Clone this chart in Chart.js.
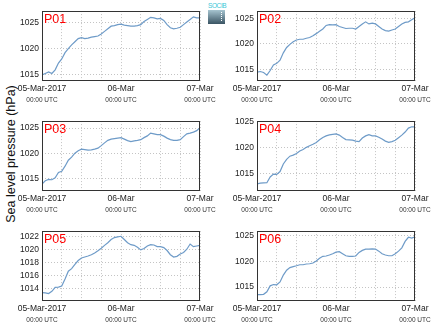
<!DOCTYPE html>
<html>
<head>
<meta charset="utf-8">
<script src="https://cdn.jsdelivr.net/npm/chart.js@4.4.1/dist/chart.umd.min.js"></script>
<style>
  body { margin:0; background:#fff; width:434px; height:327px; position:relative; overflow:hidden;
         font-family:"Liberation Sans", Arial, sans-serif; }
  canvas { position:absolute; }
  #ytitle { position:absolute; left:10.5px; top:154px; transform:translate(-50%,-50%) rotate(-90deg);
            white-space:nowrap; font-size:12.5px; color:#111; }
  #logo-txt { position:absolute; left:208px; top:2px; font-size:6.5px; letter-spacing:-0.4px; color:#3bc6d6; }
  #logo-box { position:absolute; left:208px; top:10px; width:17px; height:14px;
              background:linear-gradient(#a6c4d0, #3a5463); }
  #logo-box div { position:absolute; left:13px; top:2px; height:9px; border-left:1px dotted #fff; }
</style>
</head>
<body>
<div id="ytitle">Sea level pressure (hPa)</div>
<div id="logo-txt">SOCIB</div>
<div id="logo-box"><div></div></div>
<script>
// hours since 05-Mar-2017 00:00 UTC
const HOURS = [0,1,2,3,4,5,6,7,8,9,10,11,12,13,14,15,16,17,18,19,20,21,22,23,24,
               25,26,27,28,29,30,31,32,33,34,35,36,37,38,39,40,41,42,43,44,45,46,47,48];
const TICK_HOURS = [0, 24, 48];
const TICK_DATES = ['05-Mar-2017', '06-Mar', '07-Mar'];
const TICK_TIME = '00:00 UTC';

const STATIONS = ['P01', 'P02', 'P03', 'P04', 'P05', 'P06'];

// sea level pressure, hPa, hourly
const P01 = [1014.9,1015.2,1015.5,1015.2,1015.9,1017.2,1018.0,1019.2,1020.0,1020.7,1021.3,1021.9,1022.1,
             1021.9,1022.0,1022.2,1022.3,1022.4,1022.8,1023.3,1023.8,1024.3,1024.4,1024.6,1024.7,
             1024.5,1024.4,1024.3,1024.3,1024.4,1024.6,1025.2,1025.6,1026.0,1025.9,1025.7,1025.8,
             1025.4,1024.6,1024.0,1023.8,1023.9,1024.1,1024.6,1025.1,1025.6,1026.1,1025.9,1025.9];
const P02 = [1014.5,1014.6,1014.4,1013.9,1014.8,1015.9,1016.2,1016.8,1018.25,1019.3,1019.9,1020.4,1020.75,
             1020.9,1020.9,1021.1,1021.25,1021.6,1022.0,1022.45,1022.9,1023.6,1023.75,1023.7,1023.75,
             1023.4,1023.2,1023.0,1023.05,1023.05,1022.9,1023.4,1023.9,1024.3,1023.9,1024.05,1023.9,
             1023.4,1022.9,1022.6,1022.5,1022.7,1022.9,1023.4,1023.9,1024.2,1024.3,1024.7,1025.1];
const P03 = [1013.85,1014.5,1014.75,1014.7,1015.1,1016.15,1016.4,1017.4,1018.6,1019.2,1020.0,1020.5,1020.8,
             1020.7,1020.6,1020.65,1020.8,1021.0,1021.5,1022.05,1022.55,1022.8,1022.9,1023.0,1023.1,
             1022.8,1022.5,1022.3,1022.45,1022.55,1022.7,1023.1,1023.45,1024.0,1023.85,1023.7,1023.7,
             1023.4,1023.0,1022.7,1022.55,1022.55,1022.7,1023.3,1023.85,1024.0,1024.2,1024.5,1025.1];
const P04 = [1013.05,1013.2,1013.25,1013.3,1014.4,1014.95,1014.9,1015.45,1016.9,1017.8,1018.4,1018.6,1018.9,
             1019.4,1019.7,1020.1,1020.4,1020.7,1021.05,1021.55,1022.0,1022.3,1022.5,1022.6,1022.7,
             1022.45,1022.0,1021.6,1021.55,1021.5,1021.3,1021.2,1021.9,1022.3,1022.55,1022.3,1022.3,
             1022.05,1021.7,1021.3,1021.05,1021.2,1021.45,1021.95,1022.45,1023.05,1023.8,1024.05,1024.05];
const P05 = [1013.4,1013.35,1013.25,1013.6,1014.2,1014.25,1014.4,1015.5,1016.7,1017.1,1017.75,1018.35,1018.75,
             1018.9,1019.05,1019.25,1019.5,1019.85,1020.25,1020.7,1021.1,1021.6,1021.9,1022.0,1022.1,
             1021.6,1021.1,1020.8,1020.7,1020.4,1020.0,1020.2,1020.6,1020.8,1020.75,1020.5,1020.5,
             1020.35,1019.9,1019.25,1018.9,1019.0,1019.35,1019.6,1020.1,1020.9,1020.5,1020.6,1020.7];
const P06 = [1013.55,1013.55,1013.6,1014.1,1015.25,1015.5,1015.45,1016.0,1017.35,1018.3,1018.8,1019.0,1019.15,
             1019.35,1019.35,1019.5,1019.55,1019.7,1020.1,1020.6,1021.0,1021.05,1021.25,1021.5,1021.8,
             1021.9,1021.5,1021.1,1021.0,1021.0,1021.05,1021.75,1022.15,1022.4,1022.4,1022.45,1022.4,
             1022.0,1021.5,1021.25,1021.1,1021.1,1021.5,1022.0,1022.65,1023.9,1024.7,1024.55,1024.8];
const SERIES = [P01, P02, P03, P04, P05, P06];

// y-axis extent and tick step for each panel
const Y_MIN = [1013.75, 1012.75, 1012.45, 1011.7, 1012.1, 1012.3];
const Y_MAX = [1027.2, 1026.4, 1026.4, 1025.15, 1022.9, 1025.9];
const Y_STEP = [5, 5, 5, 5, 2, 5];

const LINE_COLOR = '#6e9bc8';
const FONT = '"Liberation Sans", Arial, sans-serif';

// frame round the plot area plus the station name in its corner
const panelFrame = {
  id: 'panelFrame',
  afterDraw(chart, args, opts) {
    const {ctx, chartArea: a} = chart;
    ctx.save();
    ctx.strokeStyle = '#333';
    ctx.lineWidth = 1;
    ctx.strokeRect(Math.round(a.left) + 0.5, Math.round(a.top) + 0.5,
                   Math.round(a.right - a.left) - 1, Math.round(a.bottom - a.top) - 1);
    ctx.fillStyle = '#ff0000';
    ctx.font = '12.5px ' + FONT;
    ctx.textBaseline = 'top';
    ctx.fillText(opts.label, a.left + 2, a.top + 2);
    ctx.restore();
  }
};

const PAD_TOP = 6;
const ROW_TOP = [9, 119, 229];
const COL_LEFT = [0, 215];

SERIES.forEach((values, i) => {
  const canvas = document.createElement('canvas');
  canvas.width = 220;
  canvas.height = 103;
  canvas.style.left = COL_LEFT[i % 2] + 'px';
  canvas.style.top = (ROW_TOP[Math.floor(i / 2)] - PAD_TOP) + 'px';
  document.body.appendChild(canvas);

  new Chart(canvas.getContext('2d'), {
    type: 'line',
    data: {
      datasets: [{
        data: HOURS.map((h, k) => ({x: h, y: values[k]})),
        borderColor: LINE_COLOR,
        borderWidth: 1.2,
        pointRadius: 0,
        tension: 0,
        fill: false
      }]
    },
    options: {
      responsive: false,
      animation: false,
      layout: {padding: {top: PAD_TOP, right: 20, left: 0, bottom: 0}},
      plugins: {legend: {display: false}, tooltip: {enabled: false}, panelFrame: {label: STATIONS[i]}},
      scales: {
        x: {
          type: 'linear', position: 'bottom', weight: 0,
          min: 0, max: 48,
          afterFit: s => { s.height = 14; },
          grid: {color: '#c4c4c4', drawTicks: false},
          border: {display: false, dash: [1, 2]},
          ticks: {
            stepSize: 6, autoSkip: false, maxRotation: 0, padding: 3,
            color: '#222', font: {family: FONT, size: 8.5},
            callback: v => {
              const k = TICK_HOURS.indexOf(v);
              return k >= 0 ? TICK_DATES[k] : '';
            }
          }
        },
        x2: {
          type: 'linear', position: 'bottom', weight: 1,
          min: 0, max: 48,
          afterFit: s => { s.height = 11; },
          grid: {display: false, drawTicks: false},
          border: {display: false},
          ticks: {
            stepSize: 24, autoSkip: false, maxRotation: 0, padding: 1,
            color: '#333', font: {family: FONT, size: 6.5},
            callback: () => TICK_TIME
          }
        },
        y: {
          min: Y_MIN[i], max: Y_MAX[i],
          afterFit: s => { s.width = 42; },
          grid: {color: '#c4c4c4', drawTicks: false},
          border: {display: false, dash: [1, 2]},
          ticks: {
            stepSize: Y_STEP[i], includeBounds: false, padding: 3,
            color: '#222', font: {family: FONT, size: 8.5},
            callback: v => v
          }
        }
      }
    },
    plugins: [panelFrame]
  });
});
</script>
</body>
</html>
